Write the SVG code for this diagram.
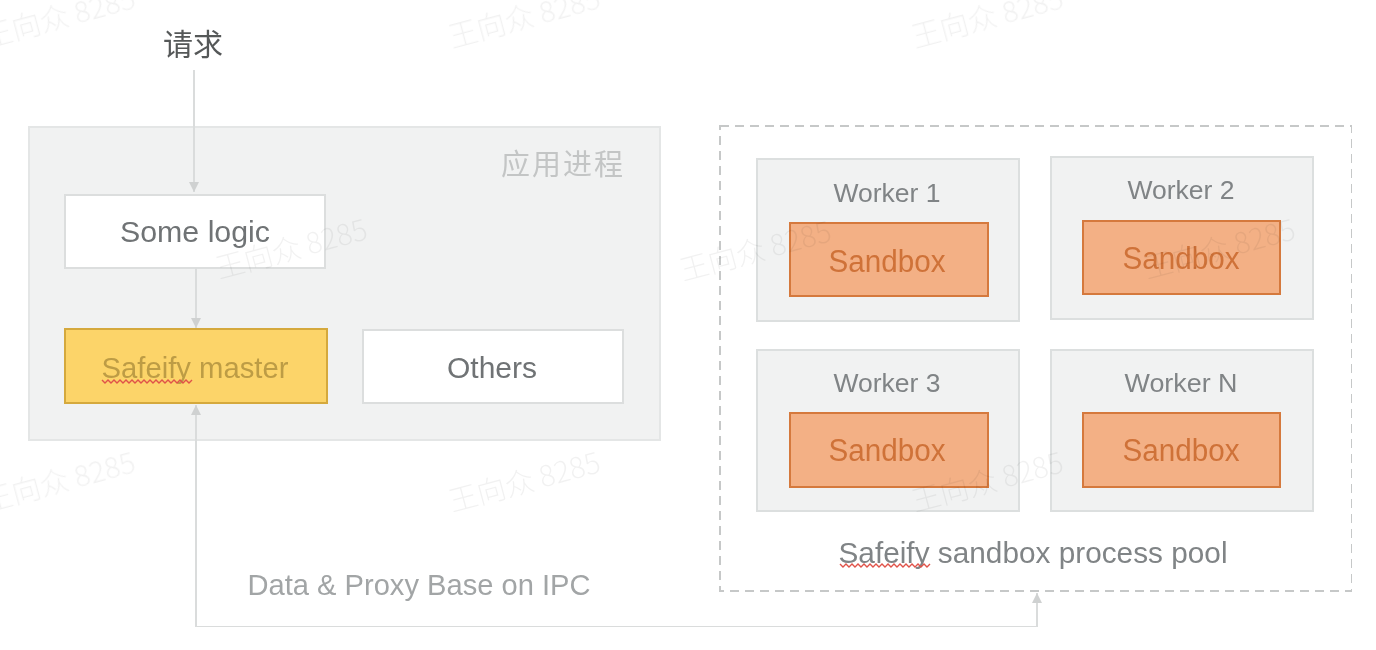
<svg xmlns="http://www.w3.org/2000/svg" width="1376" height="650" viewBox="0 0 1376 650">
<defs>
<style>
text{font-family:"Liberation Sans","Noto Sans CJK SC",sans-serif;text-anchor:middle}
.cjk{font-family:"Noto Sans CJK SC",sans-serif}
.wm{font-family:"Noto Sans CJK SC",sans-serif;font-size:29px;font-weight:300;fill:#000;fill-opacity:.055;text-anchor:start}
.panel{fill:#f1f2f2;stroke:#e4e6e6;stroke-width:2}
.white{fill:#fff;stroke:#dcdede;stroke-width:2}
.worker{fill:#f1f2f2;stroke:#dcdfdf;stroke-width:2}
.sandbox{fill:#f3b085;stroke:#d5793d;stroke-width:2}
.sandtext{font-size:31px;fill:#cf7239}
.wtext{font-size:26px;fill:#808486}
.label{font-size:30px;fill:#6f7375}
.conn{fill:none;stroke:#dadcdc;stroke-width:2}
.squig{fill:none;stroke:#e0524a;stroke-width:1.4}
</style>
<marker id="arrow" markerUnits="userSpaceOnUse" markerWidth="12" markerHeight="12" refX="10" refY="6" orient="auto">
<path d="M0 1 L10 6 L0 11 Z" fill="#cfd1d1"/>
</marker>
<filter id="soft" x="0" y="0" width="100%" height="100%"><feGaussianBlur stdDeviation="0.6"/></filter>
</defs>
<rect width="1376" height="650" fill="#fff"/>
<g filter="url(#soft)">
<g id="app-process">
<rect class="panel" x="29" y="127" width="631" height="313"/>
<text class="cjk" x="562" y="175" font-size="29" fill="#c3c5c5" textLength="122">应用进程</text>
</g>
<g id="request">
<text class="cjk" x="193" y="55" font-size="30" fill="#555859">请求</text>
</g>
<g id="some-logic">
<rect class="white" x="65" y="195" width="260" height="73"/>
<text class="label" x="195" y="242" textLength="150" lengthAdjust="spacingAndGlyphs">Some logic</text>
</g>
<g id="safeify-master">
<rect x="65" y="329" width="262" height="74" fill="#fcd469" stroke="#d5a93c" stroke-width="2"/>
<text x="195" y="378" font-size="29" fill="#bd9c45" textLength="187" lengthAdjust="spacingAndGlyphs">Safeify master</text>
<path class="squig" d="M102 380 l3 3 l3 -3 l3 3 l3 -3 l3 3 l3 -3 l3 3 l3 -3 l3 3 l3 -3 l3 3 l3 -3 l3 3 l3 -3 l3 3 l3 -3 l3 3 l3 -3 l3 3 l3 -3 l3 3 l3 -3 l3 3 l3 -3 l3 3 l3 -3 l3 3 l3 -3 l3 3 l3 -3"/>
</g>
<g id="others">
<rect class="white" x="363" y="330" width="260" height="73"/>
<text class="label" x="492" y="378" textLength="90" lengthAdjust="spacingAndGlyphs">Others</text>
</g>
<g id="sandbox-pool">
<rect x="720" y="126" width="632" height="465" fill="#fff" stroke="#c6c8c8" stroke-width="2" stroke-dasharray="9 6"/>
<text x="1033" y="563" font-size="29" fill="#808486" textLength="389" lengthAdjust="spacingAndGlyphs">Safeify sandbox process pool</text>
<path class="squig" d="M840 564 l3 3 l3 -3 l3 3 l3 -3 l3 3 l3 -3 l3 3 l3 -3 l3 3 l3 -3 l3 3 l3 -3 l3 3 l3 -3 l3 3 l3 -3 l3 3 l3 -3 l3 3 l3 -3 l3 3 l3 -3 l3 3 l3 -3 l3 3 l3 -3 l3 3 l3 -3 l3 3 l3 -3"/>
</g>
<g id="worker-1">
<rect class="worker" x="757" y="159" width="262" height="162"/>
<text class="wtext" x="887" y="202" textLength="107" lengthAdjust="spacingAndGlyphs">Worker 1</text>
<rect class="sandbox" x="790" y="223" width="198" height="73"/>
<text class="sandtext" x="887" y="272" textLength="117" lengthAdjust="spacingAndGlyphs">Sandbox</text>
</g>
<g id="worker-2">
<rect class="worker" x="1051" y="157" width="262" height="162"/>
<text class="wtext" x="1181" y="199" textLength="107" lengthAdjust="spacingAndGlyphs">Worker 2</text>
<rect class="sandbox" x="1083" y="221" width="197" height="73"/>
<text class="sandtext" x="1181" y="269" textLength="117" lengthAdjust="spacingAndGlyphs">Sandbox</text>
</g>
<g id="worker-3">
<rect class="worker" x="757" y="350" width="262" height="161"/>
<text class="wtext" x="887" y="392" textLength="107" lengthAdjust="spacingAndGlyphs">Worker 3</text>
<rect class="sandbox" x="790" y="413" width="198" height="74"/>
<text class="sandtext" x="887" y="461" textLength="117" lengthAdjust="spacingAndGlyphs">Sandbox</text>
</g>
<g id="worker-n">
<rect class="worker" x="1051" y="350" width="262" height="161"/>
<text class="wtext" x="1181" y="392" textLength="113" lengthAdjust="spacingAndGlyphs">Worker N</text>
<rect class="sandbox" x="1083" y="413" width="197" height="74"/>
<text class="sandtext" x="1181" y="461" textLength="117" lengthAdjust="spacingAndGlyphs">Sandbox</text>
</g>
<g id="ipc-label">
<text x="419" y="595" font-size="29" fill="#a2a5a6" textLength="343" lengthAdjust="spacingAndGlyphs">Data &amp; Proxy Base on IPC</text>
</g>
<g id="connectors">
<path class="conn" d="M194 70 V192" marker-end="url(#arrow)"/>
<path class="conn" d="M196 268 V328" marker-end="url(#arrow)"/>
<path class="conn" d="M196 627 V405" marker-end="url(#arrow)"/>
<path class="conn" d="M196 627 H1037 V593" marker-end="url(#arrow)"/>
</g>
<g id="watermarks">
<text class="wm" transform="translate(-13 48) rotate(-15)">王向众 8285</text>
<text class="wm" transform="translate(452 48) rotate(-15)">王向众 8285</text>
<text class="wm" transform="translate(915 48) rotate(-15)">王向众 8285</text>
<text class="wm" transform="translate(219 279) rotate(-15)">王向众 8285</text>
<text class="wm" transform="translate(683 281) rotate(-15)">王向众 8285</text>
<text class="wm" transform="translate(1147 279) rotate(-15)">王向众 8285</text>
<text class="wm" transform="translate(-13 512) rotate(-15)">王向众 8285</text>
<text class="wm" transform="translate(452 512) rotate(-15)">王向众 8285</text>
<text class="wm" transform="translate(915 512) rotate(-15)">王向众 8285</text>
</g>
</g>
</svg>
